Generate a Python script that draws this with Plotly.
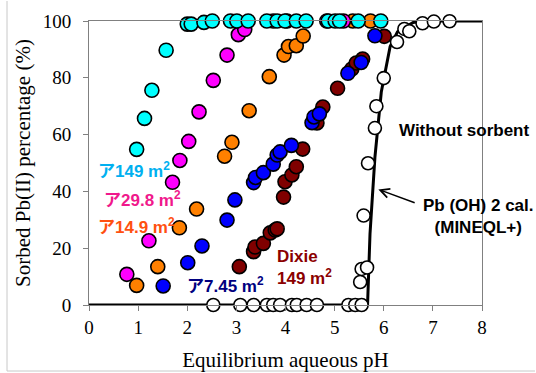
import plotly.graph_objects as go

# ---- data ----
ph_cyan = [0.97, 1.13, 1.28, 1.57, 2.00, 2.08, 2.34, 2.51, 2.88, 3.01, 3.24, 3.62, 3.83, 3.99, 4.22, 4.42, 4.87, 5.01, 5.10, 5.48, 5.94]
pct_cyan = [54.8, 65.7, 75.6, 89.7, 98.9, 98.9, 99.5, 100, 100, 100, 100, 100, 100, 100, 100, 100, 100, 100, 100, 100, 100]

ph_mag = [0.77, 1.22, 1.70, 1.85, 2.03, 2.24, 2.53, 2.81, 3.04, 3.17, 3.75, 4.03, 4.84, 5.18]
pct_mag = [10.8, 22.6, 43.2, 50.9, 57.6, 68.0, 79.1, 88.0, 95.2, 97.0, 100, 100, 100, 100]

ph_orange = [0.97, 1.40, 1.84, 2.19, 2.76, 2.91, 3.26, 3.67, 3.97, 4.06, 4.22, 4.36, 5.37, 5.73]
pct_orange = [6.9, 13.5, 27.2, 33.8, 52.4, 57.3, 68.4, 80.4, 88.0, 91.0, 91.3, 94.7, 100, 100]

ph_blue = [1.51, 2.01, 2.30, 2.81, 2.97, 3.35, 3.39, 3.55, 3.75, 3.83, 3.89, 4.12, 4.54, 4.58, 4.69, 5.27, 5.54, 5.82]
pct_blue = [6.7, 14.9, 20.8, 29.9, 37.0, 43.1, 44.9, 46.6, 49.6, 52.8, 53.9, 56.2, 64.2, 66.2, 67.3, 81.6, 85.4, 94.8]

ph_dixie = [3.06, 3.35, 3.38, 3.55, 3.69, 3.79, 3.83, 3.96, 3.99, 4.13, 4.22, 4.35, 4.64, 4.76, 5.06, 5.35, 5.44, 5.57, 6.01]
pct_dixie = [13.5, 18.8, 20.4, 21.7, 25.4, 26.4, 26.8, 38.0, 43.4, 45.8, 48.7, 54.9, 64.1, 69.7, 76.3, 83.1, 85.2, 86.6, 94.6]

ph_none = [2.53, 3.08, 3.35, 3.62, 3.75, 3.89, 4.13, 4.23, 4.43, 4.64, 5.28, 5.42, 5.55, 5.52, 5.55, 5.66, 5.59, 5.68, 5.82, 5.85, 6.00, 6.27, 6.42, 6.52, 6.79, 7.02, 7.34]
pct_none = [0, 0, 0, 0, 0, 0, 0, 0, 0, 0, 0, 0, 0, 8.1, 12.7, 13.2, 31.5, 49.9, 62.3, 70.0, 79.9, 92.6, 97.2, 96.4, 99.2, 99.8, 99.9]

ph_calc = [0, 5.67, 5.72, 5.82, 5.95, 6.13, 6.28, 6.6, 6.8, 8]
pct_calc = [0, 0, 25, 52, 75, 91, 96.2, 99.5, 100, 100]

x_ticks = [0, 1, 2, 3, 4, 5, 6, 7, 8]
y_ticks = [0, 20, 40, 60, 80, 100]

LBL_FONT = "Liberation Sans, Arial, sans-serif"
JP_FONT = "Liberation Sans, Noto Sans CJK JP, sans-serif"
SERIF = "Liberation Serif, Times New Roman, serif"

fig = go.Figure()

fig.add_trace(go.Scatter(x=ph_calc, y=pct_calc, mode="lines",
                         line=dict(color="black", width=3), cliponaxis=False,
                         showlegend=False, hoverinfo="skip"))


def pts(x, y, color, size=14):
    fig.add_trace(go.Scatter(x=x, y=y, mode="markers", cliponaxis=False, showlegend=False,
                             marker=dict(size=size, color=color,
                                         line=dict(color="black", width=1.6))))


pts(ph_dixie, pct_dixie, "#800000")
pts(ph_blue, pct_blue, "#0000FF")
pts(ph_orange, pct_orange, "#FF8000")
pts(ph_mag, pct_mag, "#FF00FF")
pts(ph_cyan, pct_cyan, "#00FFFF")
pts(ph_none, pct_none, "#FFFFFF", size=13)


def lab(x, y, text, color, size=17, font=JP_FONT, xanchor="left", align="left"):
    fig.add_annotation(x=x, y=y, xref="x", yref="y", text=text, showarrow=False,
                       xanchor=xanchor, yanchor="middle", align=align,
                       font=dict(family=font, size=size, color=color, weight="bold"))


lab(0.15, 47.5, "ア149 m<sup>2</sup>", "#00B0F0")
lab(0.27, 37.3, "ア29.8 m<sup>2</sup>", "#F0188C")
lab(0.15, 27.8, "ア14.9 m<sup>2</sup>", "#FF5010")
lab(1.95, 7.0, "ア7.45 m<sup>2</sup>", "#000080")
lab(3.79, 13.2, "Dixie<br>149 m<sup>2</sup>", "#8B0000")
lab(6.27, 61.3, "Without sorbent", "black", size=17, font=LBL_FONT)
lab(7.92, 31.2, "Pb (OH) 2 cal.<br>(MINEQL+)", "black", size=17, font=LBL_FONT,
    xanchor="center", align="center")

# arrow
fig.add_annotation(x=5.89, y=40.7, ax=6.66, ay=35.8, xref="x", yref="y",
                   axref="x", ayref="y", text="", showarrow=True,
                   arrowhead=5, arrowsize=1.2, arrowwidth=1.5, arrowcolor="black")

W, H = 536, 373
L, R, T, B = 89, 54, 21, 68
pw, ph = W - L - R, H - T - B


def px_to_paper(px, py):
    return (px - L) / pw, (H - B - py) / ph


x0, y0 = px_to_paper(7, 371)
_, y1 = px_to_paper(7, 1)
x1, _ = px_to_paper(535, 371)
fig.add_shape(type="line", xref="paper", yref="paper", x0=x0, y0=y0, x1=x0, y1=y1,
              line=dict(color="#C8C8C8", width=1))
fig.add_shape(type="line", xref="paper", yref="paper", x0=x0, y0=y0, x1=x1, y1=y0,
              line=dict(color="#C8C8C8", width=1))

fig.update_layout(
    width=W, height=H,
    margin=dict(l=L, r=R, t=T, b=B, autoexpand=False),
    paper_bgcolor="white", plot_bgcolor="white",
    showlegend=False,
)
fig.update_xaxes(range=[0, 8], tickvals=x_ticks, showgrid=False, zeroline=False,
                 automargin=False,
                 showline=True, mirror=True, linecolor="#808080", linewidth=1,
                 ticks="outside", ticklen=5, tickcolor="#808080",
                 tickfont=dict(family=SERIF, size=19, color="black"),
                 title=dict(text="Equilibrium aqueous pH", standoff=15,
                            font=dict(family=SERIF, size=21, color="black")))
fig.update_yaxes(range=[0, 100], tickvals=y_ticks, showgrid=False, zeroline=False,
                 automargin=False,
                 showline=True, mirror=True, linecolor="#808080", linewidth=1,
                 ticks="outside", ticklen=5, tickcolor="#808080",
                 ticklabelstandoff=8,
                 tickfont=dict(family=SERIF, size=19, color="black"),
                 title=dict(text="Sorbed Pb(II) percentage (%)", standoff=6,
                            font=dict(family=SERIF, size=21, color="black")))

fig.write_html("out.html", config={"displayModeBar": False},
               post_script="document.body.style.margin='0';document.body.style.padding='0';")
